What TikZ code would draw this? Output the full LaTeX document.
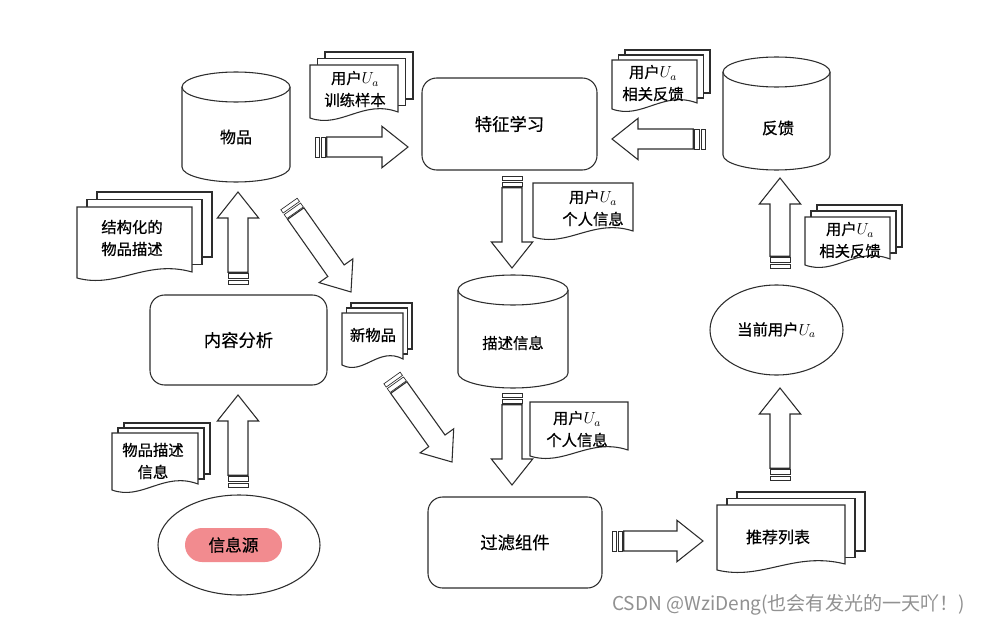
\documentclass[tikz,border=0pt]{standalone}
\usepackage{fontspec}
\setmainfont{Noto Sans CJK SC}[FakeBold=0.6]
\newfontfamily\wmfont{Noto Sans CJK SC}
\usetikzlibrary{calc,shapes.geometric}
\definecolor{lncol}{RGB}{45,45,45}
\definecolor{pinkfill}{RGB}{242,139,143}
\definecolor{wmgray}{RGB}{145,145,145}
\tikzset{
  ln/.style={draw=lncol, line width=0.8pt},
  thinln/.style={draw=lncol, line width=0.5pt},
  proc/.style={ln, fill=white, rounded corners=11pt, inner sep=0pt, outer sep=0pt, font=\fontsize{13}{15}\selectfont},
  oval/.style={ln, fill=white, ellipse, inner sep=0pt, outer sep=0pt},
  lbl/.style={inner sep=0pt, font=\fontsize{12}{14}\selectfont},
  doct/.style={inner sep=0pt, align=center, font=\fontsize{11.5}{16.5}\selectfont},
}
\newcommand\fatarr[2]{%
  \path let \p1=(#1), \p2=(#2) in \pgfextra{%
    \pgfmathsetmacro\fatA{atan2(\y2-\y1,\x2-\x1)}%
    \pgfmathsetmacro\fatL{veclen(\x2-\x1,\y2-\y1)}%
    \global\let\fatAng\fatA \global\let\fatLen\fatL};
  \begin{scope}[shift={(#1)}, rotate=\fatAng, x=1pt, y=1pt]
    \draw[thinln, fill=white] (0,-7.5) rectangle (3.0,7.5);
    \draw[thinln, fill=white] (4.4,-7.5) rectangle (8.0,7.5);
    \draw[ln, fill=white] (8.8,-7.5) -- ({\fatLen-19.5},-7.5) -- ({\fatLen-19.5},-15.5) -- (\fatLen,0) -- ({\fatLen-19.5},15.5) -- ({\fatLen-19.5},7.5) -- (8.8,7.5) -- cycle;
  \end{scope}}
\newcommand\cylshape[5]{%
  \pgfmathsetmacro\cyA{#2+#5}%
  \pgfmathsetmacro\cyB{#3-#5}%
  \pgfmathsetmacro\cyL{#1-#4}%
  \pgfmathsetmacro\cyR{#1+#4}%
  \pgfmathsetmacro\cyK{0.5523*#4}%
  \pgfmathsetmacro\cyJ{0.5523*#5}%
  \draw[ln, fill=white] (\cyL,\cyA) -- (\cyL,\cyB) .. controls (\cyL,\cyB+\cyJ) and (#1-\cyK,\cyB+#5) .. (#1,\cyB+#5) .. controls (#1+\cyK,\cyB+#5) and (\cyR,\cyB+\cyJ) .. (\cyR,\cyB) -- (\cyR,\cyA);
  \draw[ln, fill=white] (#1,\cyA) ellipse [x radius=#4, y radius=#5];}
\newcommand\docstack[7]{%
  \ifnum#5>0
    \foreach \k in {#5,...,1} {
      \draw[ln, fill=white] (#1+\k*#6, #2-\k*#7) rectangle (#3+\k*#6, #4-9-\k*#7);
    }
  \fi
  \draw[ln, fill=white] (#1,#2) -- (#3,#2) -- (#3,#4-9) .. controls ({#1+0.6*(#3-#1)},#4-22) and ({#1+0.35*(#3-#1)},#4+8) .. (#1,#4-3) -- cycle;}
\begin{document}
\begin{tikzpicture}[x=0.75pt,y=-0.75pt]
\fill[white] (0,0) rectangle (984,624);
\useasboundingbox (0,0) rectangle (984,624);

% cylinders
\cylshape{236}{72}{182}{54}{15}
\node[lbl] (wupin) at (236,137) {物品};
\cylshape{776.5}{57}{170}{53.5}{15}
\node[lbl] (fankui) at (778,128) {反馈};
\cylshape{513}{275}{388}{55}{15}
\node[lbl, font=\fontsize{11.5}{14}\selectfont] (miaoshu) at (513,343) {描述信息};

% process boxes
\node[proc, minimum width=131.25pt, minimum height=69pt] (tezheng) at (509.5,124) {特征学习};
\node[proc, minimum width=132.75pt, minimum height=67.5pt] (neirong) at (238.5,340) {内容分析};
\node[proc, minimum width=130.5pt, minimum height=68.25pt] (guolv) at (515,542.5) {过滤组件};

% ellipses
\node[oval, minimum width=121.5pt, minimum height=75pt] (xinxiyuan) at (239,545) {};
\node[fill=pinkfill, rounded corners=12.75pt, minimum width=72.75pt, minimum height=25.5pt, inner sep=0pt, font=\fontsize{12.5}{14}\selectfont] (pill) at (233.5,545) {信息源};
\node[oval, minimum width=99.75pt, minimum height=67.5pt, font=\fontsize{11.5}{14}\selectfont] (dangqian) at (776.5,330) {当前用户$U_a$};

% document stacks
\docstack{310}{65}{398}{121}{2}{7.5}{6.5}
\node[doct] (d1) at (355,89) {用户$U_a$\\训练样本};
\docstack{612}{60}{697}{112}{2}{6.5}{5}
\node[doct] (d2) at (653,83) {用户$U_a$\\相关反馈};
\docstack{533}{183}{633}{240}{0}{0}{0}
\node[doct] (d3) at (593,208) {用户$U_a$\\个人信息};
\docstack{77}{207}{192}{281}{2}{10}{7.5}
\node[doct] (d4) at (132,238) {结构化的\\物品描述};
\docstack{342}{313}{403}{368}{2}{4.5}{5}
\node[doct] (d5) at (373,335) {新物品};
\docstack{805}{217}{890}{268}{2}{6}{6}
\node[doct] (d6) at (850,240) {用户$U_a$\\相关反馈};
\docstack{530}{402}{628}{459}{0}{0}{0}
\node[doct] (d7) at (577,429) {用户$U_a$\\个人信息};
\docstack{112}{433}{198}{493}{2}{6}{5}
\node[doct] (d8) at (153,461) {物品描述\\信息};
\docstack{717}{505}{845}{573}{2}{10}{6.5}
\node[doct, font=\fontsize{12}{14}\selectfont] (d9) at (778,537) {推荐列表};

% arrow end points
\coordinate (a1s) at (315,147); \coordinate (a1e) at (408,147);
\coordinate (a2s) at (705,139); \coordinate (a2e) at (612,139);
\coordinate (a3s) at (512,176); \coordinate (a3e) at (512,268);
\coordinate (a4s) at (512,393); \coordinate (a4e) at (512,485);
\coordinate (a5s) at (289,204); \coordinate (a5e) at (351,292);
\coordinate (a6s) at (392,378); \coordinate (a6e) at (452,462);
\coordinate (a7s) at (238,487); \coordinate (a7e) at (238,395);
\coordinate (a8s) at (238,284); \coordinate (a8e) at (238,192);
\coordinate (a9s) at (612,541); \coordinate (a9e) at (703,541);
\coordinate (a10s) at (780,480); \coordinate (a10e) at (780,388);
\coordinate (a11s) at (780,268); \coordinate (a11e) at (780,178);

\fatarr{a1s}{a1e}
\fatarr{a2s}{a2e}
\fatarr{a3s}{a3e}
\fatarr{a4s}{a4e}
\fatarr{a5s}{a5e}
\fatarr{a6s}{a6e}
\fatarr{a7s}{a7e}
\fatarr{a8s}{a8e}
\fatarr{a9s}{a9e}
\fatarr{a10s}{a10e}
\fatarr{a11s}{a11e}

% watermark
\node[anchor=west, inner sep=0pt, text=wmgray, font=\wmfont\fontsize{14.3}{16}\selectfont] (wm) at (612,605) {CSDN @WziDeng(也会有发光的一天吖！)};
\end{tikzpicture}
\end{document}
